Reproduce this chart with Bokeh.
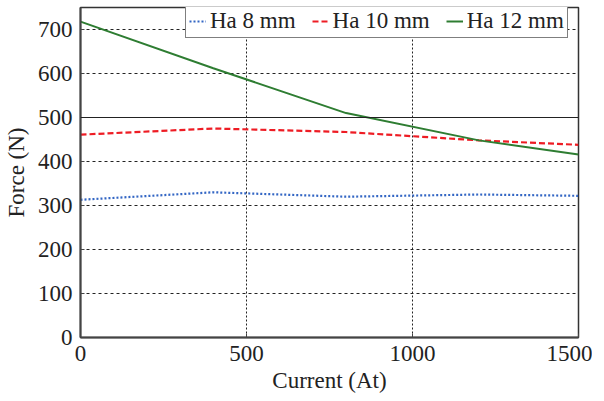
from bokeh.plotting import figure
from bokeh.models import Span, Legend, LegendItem, FixedTicker, Range1d
from bokeh.embed import file_html
from bokeh.resources import INLINE

current = [0, 400, 800, 1200, 1500]
ha8 = [313, 330, 320, 325, 322]
ha10 = [461, 475, 467, 448, 438]
ha12 = [718, 612, 510, 448, 416]

x_ticks = [0, 500, 1000, 1500]
y_ticks = [0, 100, 200, 300, 400, 500, 600, 700]

FONT = "Liberation Serif"

p = figure(frame_width=498, frame_height=330, output_backend="svg", toolbar_location=None,
           x_range=Range1d(0, 1500), y_range=Range1d(0, 750),
           min_border_left=76, min_border_right=14, min_border_top=7, min_border_bottom=40)
p.background_fill_color = "white"
p.border_fill_color = "white"
p.outline_line_color = "#333333"
p.outline_line_width = 1.5

p.xaxis.ticker = FixedTicker(ticks=x_ticks)
p.yaxis.ticker = FixedTicker(ticks=y_ticks)
p.xaxis.minor_tick_line_color = None
p.yaxis.minor_tick_line_color = None
for ax in (p.xaxis, p.yaxis):
    ax.major_tick_in = 4
    ax.major_tick_out = 0
    ax.axis_line_color = "#444444"
    ax.axis_line_width = 2
    ax.major_tick_line_color = "#444444"
    ax.major_label_text_font = FONT
    ax.major_label_text_font_size = "23px"
    ax.major_label_text_color = "#222222"
    ax.major_label_text_line_height = 1.0
    ax.axis_label_text_font = FONT
    ax.axis_label_text_font_size = "23px"
    ax.axis_label_text_font_style = "normal"
    ax.axis_label_text_color = "#222222"
    ax.axis_label_text_line_height = 1.0
p.xaxis.axis_label = "Current (At)"
p.yaxis.axis_label = "Force (N)"
p.xaxis.major_label_standoff = 8
p.yaxis.major_label_standoff = 8
p.xaxis.axis_label_standoff = 4
p.yaxis.axis_label_standoff = 6

p.xgrid.grid_line_color = "#222222"
p.xgrid.grid_line_dash = "2 2"
p.xgrid.grid_line_width = 1
p.ygrid.grid_line_color = "#222222"
p.ygrid.grid_line_dash = "3 3"
p.ygrid.grid_line_width = 1

p.add_layout(Span(location=500, dimension="width", line_color="#222222", line_width=1.2))

r8 = p.line(current, ha8, line_color="#3366c4", line_width=2.2, line_dash="2 2")
r10 = p.line(current, ha10, line_color="#ee1c24", line_width=2.2, line_dash="6 3")
r12 = p.line(current, ha12, line_color="#2e7d32", line_width=2)

legend = Legend(items=[LegendItem(label="Ha 8 mm", renderers=[r8]),
                       LegendItem(label="Ha 10 mm", renderers=[r10]),
                       LegendItem(label="Ha 12 mm", renderers=[r12])],
                orientation="horizontal", location=(105, 299), margin=0,
                border_line_color="black", border_line_width=1.2,
                label_text_font=FONT, label_text_font_size="23px",
                label_text_color="#222222",
                glyph_width=17, glyph_height=18, label_standoff=4, spacing=16,
                padding=3, label_height=20, background_fill_alpha=1)
p.add_layout(legend)

open("out.html", "w").write(file_html(p, INLINE))
